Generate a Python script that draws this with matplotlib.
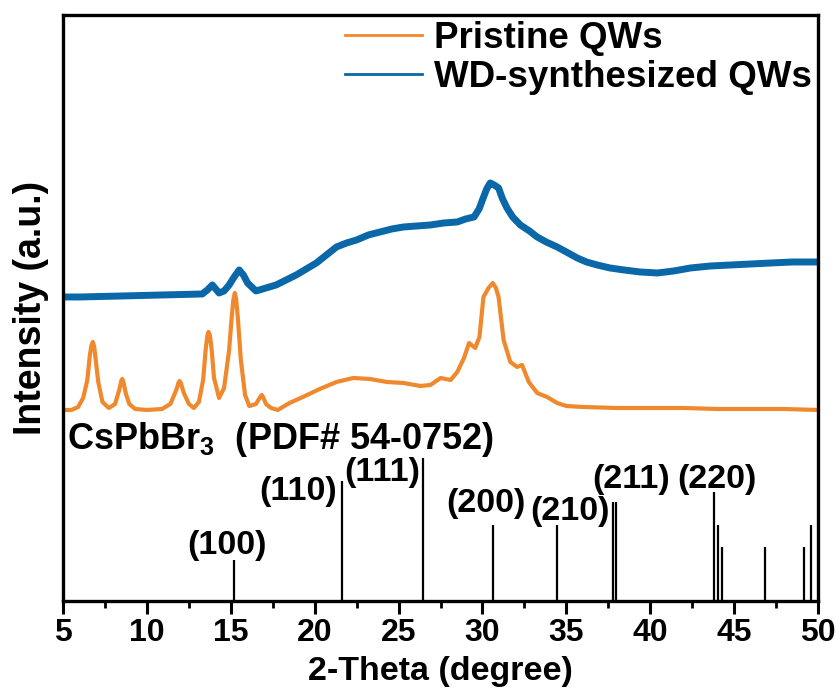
import matplotlib
matplotlib.use("Agg")
import matplotlib.pyplot as plt

plt.rcParams["font.family"] = ["Liberation Sans", "DejaVu Sans"]
plt.rcParams["font.weight"] = "bold"
plt.rcParams["mathtext.fontset"] = "custom"
plt.rcParams["mathtext.rm"] = "Liberation Sans:bold"
plt.rcParams["mathtext.bf"] = "Liberation Sans:bold"

# Pristine QWs pattern (2-theta, intensity above its own baseline)
pristine_2theta = [5.0, 5.5, 5.9, 6.2, 6.45, 6.6, 6.7, 6.78, 6.86, 6.95, 7.1, 7.35, 7.73,
                   8.1, 8.35, 8.47, 8.53, 8.6, 8.75, 8.95, 9.3, 10.0, 10.9, 11.4, 11.75,
                   11.9, 11.95, 12.02, 12.2, 12.5, 12.8, 13.1, 13.35, 13.5, 13.6, 13.67,
                   13.75, 13.85, 14.0, 14.3, 14.6, 14.9, 15.05, 15.15, 15.24, 15.32,
                   15.42, 15.6, 15.85, 16.1, 16.5, 16.75, 16.85, 16.95, 17.1, 17.4, 17.8,
                   18.5, 19.3, 20.3, 21.3, 22.3, 23.3, 24.3, 25.3, 26.3, 26.9, 27.5, 28.1,
                   28.5, 28.9, 29.2, 29.57, 29.82, 30.06, 30.36, 30.62, 30.8, 30.96, 31.26,
                   31.66, 32.06, 32.36, 32.76, 33.26, 33.85, 34.45, 35.0, 36.0, 38.0, 40.0,
                   42.0, 44.0, 46.0, 48.0, 50.0]
pristine_int = [0, 0, 3, 12, 30, 55, 65, 68, 63, 50, 28, 8, 2,
                6, 20, 29, 31, 28, 16, 6, 1, 0, 1, 6, 20,
                28, 29, 27, 17, 6, 2, 8, 30, 60, 74, 78,
                75, 62, 32, 12, 22, 60, 92, 110, 117, 111,
                92, 50, 15, 4, 6, 13, 15, 12, 6, 2, 0,
                7, 13, 21, 28, 32, 31, 28, 27, 24, 25, 32, 30,
                38, 52, 67, 62, 73, 113, 122, 127, 122, 113, 70,
                48, 43, 45, 28, 17, 13, 7, 4, 3, 2, 2,
                2, 1, 1, 1, 0]

# WD-synthesized QWs pattern
wd_2theta = [5.0, 6.0, 8.5, 10.9, 13.3, 13.6, 13.9, 14.3, 14.6, 14.9, 15.2, 15.5, 15.75,
             16.0, 16.5, 17.1, 17.7, 18.3, 18.9, 19.5, 20.1, 20.7, 21.3, 21.9, 22.5,
             23.2, 23.9, 24.6, 25.3, 26.1, 26.9, 27.7, 28.5, 29.0, 29.5, 29.8, 30.0,
             30.25, 30.46, 30.7, 30.96, 31.2, 31.46, 31.8, 32.26, 32.8, 33.26, 33.8,
             34.45, 35.0, 35.65, 36.2, 36.84, 37.6, 38.43, 39.4, 40.43, 41.4, 42.4,
             43.6, 44.8, 46.0, 47.2, 48.5, 49.8, 50.0]
wd_int = [0, 0, 1, 2, 3, 7, 12, 4, 6, 12, 20, 27, 22,
          14, 6, 9, 12, 17, 22, 28, 34, 42, 50, 54, 57,
          62, 65, 68, 70, 71, 72, 74, 75, 78, 80, 88, 97,
          108, 114, 112, 109, 98, 89, 80, 72, 66, 60, 55,
          50, 45, 39, 35, 32, 29, 27, 25, 24, 26, 29,
          31, 32, 33, 34, 35, 35, 35]

# CsPbBr3 reference card PDF# 54-0752 (relative intensity, %)
ref_2theta = [15.18, 21.6, 26.47, 30.64, 34.43, 37.80, 37.98, 43.80, 44.03, 44.26,
              46.84, 49.17, 49.60]
ref_int = [29, 84, 100, 53, 53, 69, 69, 76, 53, 38, 38, 38, 53]
ref_hkl = ["(100)", "(110)", "(111)", "(200)", "(210)", "(211)", "(220)"]

# vertical stacking of the three patterns
ref_scale = 1.43
pristine_offset = 191
wd_offset = 304

fig = plt.figure(figsize=(8.37, 6.96), dpi=100)
ax = fig.add_axes([0.0753, 0.1365, 0.902, 0.842])

ax.plot(pristine_2theta, [v + pristine_offset for v in pristine_int],
        color="#F0892D", lw=3.0, label="Pristine QWs", solid_joinstyle="round")
ax.plot(wd_2theta, [v + wd_offset for v in wd_int],
        color="#0A67A8", lw=5.0, label="WD-synthesized QWs", solid_joinstyle="round")

ax.vlines(ref_2theta, 0, [v * ref_scale for v in ref_int], color="black", lw=1.6)

# hkl labels placed next to their sticks
hkl_pos = [(14.80, 55), (18.99, 109), (24.01, 128), (30.22, 97),
           (35.24, 89), (38.89, 121), (43.97, 121)]
for lab, (x, y) in zip(ref_hkl, hkl_pos):
    ax.text(x, y, lab, ha="center", va="center", fontsize=24.5, fontweight="bold")

ax.text(5.24, 161, r"CsPbBr$_3$  (PDF# 54-0752)", ha="left", va="center",
        fontsize=26, fontweight="bold")

ax.set_xlim(5, 50)
ax.set_ylim(0, 586)
ax.set_xticks(range(5, 51, 5))
ax.set_xticks([x + 2.5 for x in range(5, 50, 5)], minor=True)
ax.set_yticks([])
ax.tick_params(axis="x", which="major", direction="out", length=9, width=2.2,
               labelsize=23, pad=3)
ax.tick_params(axis="x", which="minor", direction="out", length=5, width=2.0)
for lab in ax.get_xticklabels():
    lab.set_fontweight("bold")
for sp in ax.spines.values():
    sp.set_linewidth(2.4)

ax.set_xlabel("2-Theta (degree)", fontsize=24.5, fontweight="bold", labelpad=6)
ax.set_ylabel("Intensity (a.u.)", fontsize=27, fontweight="bold", labelpad=10)

leg = ax.legend(loc="upper right", bbox_to_anchor=(0.992, 0.99), frameon=False,
                fontsize=26.5, handlelength=2.1, handletextpad=0.33,
                labelspacing=0.1, borderpad=0, borderaxespad=0)
for t in leg.get_texts():
    t.set_fontweight("bold")
for h in leg.get_lines():
    h.set_linewidth(2.0)

fig.savefig("out.png", dpi=100)
